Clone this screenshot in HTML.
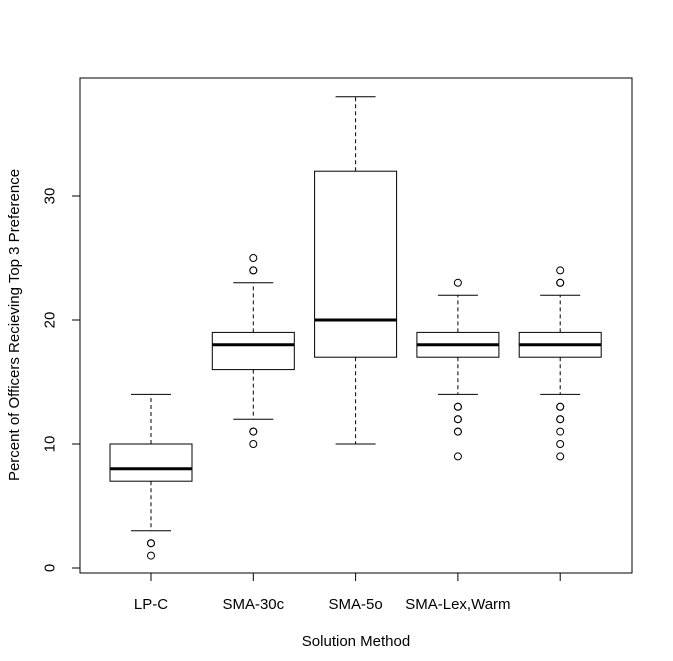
<!DOCTYPE html>
<html><head><meta charset="utf-8"><style>
body{margin:0;background:#fff;}
svg text{font-family:"Liberation Sans",sans-serif;font-size:15px;fill:#000;}
</style></head><body>
<svg id="chart" width="673" height="656">
<rect x="80" y="78" width="552" height="495" fill="none" stroke="#000" stroke-width="1"/>
<g id="yaxis"></g>
<g id="xaxis"></g>
<g id="boxes"></g>
<text x="19" y="325" text-anchor="middle" transform="rotate(-90 19 325)">Percent of Officers Recieving Top 3 Preference</text>
<text x="356" y="646" text-anchor="middle">Solution Method</text>
</svg>
<script>
const categories=["LP-C","SMA-30c","SMA-5o","SMA-Lex,Warm",""];
const lowWhisker=[3,12,10,14,14];
const q1=[7,16,17,17,17];
const medians=[8,18,20,18,18];
const q3=[10,19,32,19,19];
const highWhisker=[14,23,38,22,22];
const outliers=[[2,2,1],[11,11,10,24,24,25],[],[23,13,13,12,12,11,11,9],[23,23,24,13,13,12,12,11,10,9]];
const yTicks=[0,10,20,30];
const NS="http://www.w3.org/2000/svg";
function y(v){return 568-12.4*v;}
function x(i){return 151+102.3*i;}
function mk(tag,attrs,parent){const e=document.createElementNS(NS,tag);for(const k in attrs)e.setAttribute(k,attrs[k]);parent.appendChild(e);return e;}
const ya=document.getElementById('yaxis'),xa=document.getElementById('xaxis'),bx=document.getElementById('boxes');
yTicks.forEach(t=>{
 const l=mk('line',{x1:72,x2:80,y1:y(t),y2:y(t),stroke:'#000'},ya);
 
 
 const tx=mk('text',{x:50,y:y(t),'text-anchor':'middle',transform:`rotate(-90 50 ${y(t)})`,'dominant-baseline':'central'},ya);
 tx.textContent=t;
 
 
});
categories.forEach((c,i)=>{
 const l=mk('line',{x1:x(i),x2:x(i),y1:573,y2:581,stroke:'#000'},xa);
 
 
 const tx=mk('text',{x:x(i),y:609,'text-anchor':'middle'},xa);
 tx.textContent=c;
 
 
 const g=mk('g',{},bx);
 
 
 const cx=x(i),w=41,ww=20;
 mk('line',{x1:cx,x2:cx,y1:y(q3[i]),y2:y(highWhisker[i]),stroke:'#000','stroke-dasharray':'4,3'},g);
 mk('line',{x1:cx,x2:cx,y1:y(q1[i]),y2:y(lowWhisker[i]),stroke:'#000','stroke-dasharray':'4,3'},g);
 mk('line',{x1:cx-ww,x2:cx+ww,y1:y(highWhisker[i]),y2:y(highWhisker[i]),stroke:'#000'},g);
 mk('line',{x1:cx-ww,x2:cx+ww,y1:y(lowWhisker[i]),y2:y(lowWhisker[i]),stroke:'#000'},g);
 mk('rect',{x:cx-w,y:y(q3[i]),width:2*w,height:y(q1[i])-y(q3[i]),fill:'none',stroke:'#000'},g);
 mk('line',{x1:cx-w,x2:cx+w,y1:y(medians[i]),y2:y(medians[i]),stroke:'#000','stroke-width':3},g);
 outliers[i].forEach(o=>{
  const p=mk('circle',{cx:cx,cy:y(o),r:3.5,fill:'none',stroke:'#000'},g);
  
  
 });
});
</script>
</body></html>
